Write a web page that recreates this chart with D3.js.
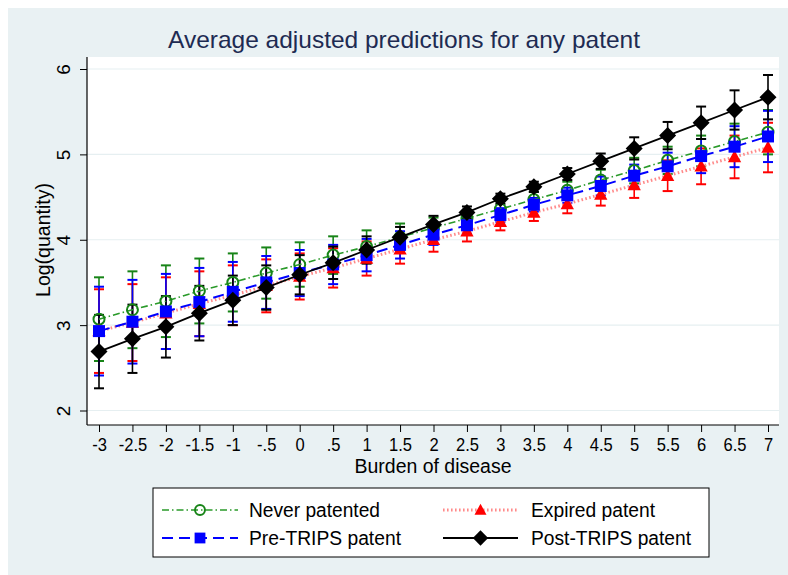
<!DOCTYPE html>
<html><head><meta charset="utf-8">
<script src="https://cdn.jsdelivr.net/npm/d3@7"></script>
<style>body{margin:0;background:#fff}svg{display:block}text{font-family:"Liberation Sans",Arial,sans-serif}</style>
</head><body>
<script>
const xVals = [-3,-2.5,-2,-1.5,-1,-0.5,0,0.5,1,1.5,2,2.5,3,3.5,4,4.5,5,5.5,6,6.5,7];
const xTickLabels = ["-3","-2.5","-2","-1.5","-1","-.5","0",".5","1","1.5","2","2.5","3","3.5","4","4.5","5","5.5","6","6.5","7"];
const yTicks = [2,3,4,5,6];

const neverVals = [3.07,3.18,3.28,3.40,3.50,3.61,3.71,3.82,3.92,4.03,4.14,4.25,4.36,4.47,4.58,4.70,4.81,4.93,5.04,5.15,5.26];
const neverCI   = [0.49,0.45,0.42,0.38,0.34,0.30,0.26,0.22,0.19,0.16,0.12,0.10,0.09,0.09,0.10,0.12,0.15,0.16,0.18,0.21,0.26];
const expiredVals = [2.93,3.03,3.14,3.25,3.35,3.46,3.57,3.67,3.78,3.89,4.00,4.10,4.21,4.32,4.42,4.53,4.64,4.75,4.86,4.97,5.08];
const expiredCI   = [0.49,0.45,0.42,0.38,0.35,0.31,0.27,0.23,0.20,0.17,0.14,0.12,0.10,0.10,0.11,0.13,0.15,0.18,0.21,0.25,0.29];
const preVals = [2.93,3.04,3.16,3.27,3.39,3.50,3.61,3.71,3.82,3.94,4.06,4.17,4.29,4.41,4.52,4.63,4.75,4.86,4.98,5.09,5.21];
const preCI   = [0.52,0.49,0.44,0.40,0.35,0.31,0.27,0.23,0.19,0.16,0.12,0.10,0.08,0.08,0.09,0.11,0.13,0.16,0.20,0.24,0.30];
const postVals = [2.69,2.84,2.98,3.14,3.29,3.44,3.59,3.73,3.88,4.03,4.18,4.32,4.48,4.62,4.77,4.92,5.07,5.22,5.37,5.52,5.67];
const postCI   = [0.43,0.40,0.36,0.32,0.29,0.26,0.23,0.19,0.16,0.12,0.10,0.07,0.06,0.06,0.07,0.09,0.13,0.16,0.19,0.23,0.26];

const seriesNames = ["Never patented","Expired patent","Pre-TRIPS patent","Post-TRIPS patent"];

const W = 788, H = 575;
const svg = d3.select("body").append("svg").attr("width", W).attr("height", H);

svg.append("rect").attr("x",0).attr("y",0).attr("width",W).attr("height",H).attr("fill","#ffffff");
svg.append("rect").attr("x",8).attr("y",8).attr("width",W-8).attr("height",H-8).attr("fill","#e9f1f3");
const plot = {l:87, t:57, r:779, b:425};
svg.append("rect").attr("x",plot.l).attr("y",plot.t).attr("width",plot.r-plot.l).attr("height",plot.b-plot.t).attr("fill","#ffffff");

const x = d3.scaleLinear().domain([-3,7]).range([99,768]);
const y = d3.scaleLinear().domain([2,6]).range([410.5,69]);

svg.append("g").selectAll("line").data(yTicks).join("line")
  .attr("x1",plot.l).attr("x2",plot.r).attr("y1",d=>y(d)).attr("y2",d=>y(d))
  .attr("stroke","#e6eff1").attr("stroke-width",1.2);

const yAxis = svg.append("g").attr("transform",`translate(${plot.l},0)`)
  .call(d3.axisLeft(y).tickValues(yTicks).tickSize(7).tickFormat(d3.format("d")));
yAxis.select(".domain").attr("d",`M0,${plot.t}V${plot.b}`).attr("stroke","#000").attr("stroke-width",1.2);
yAxis.selectAll(".tick line").attr("stroke","#000").attr("stroke-width",1);
yAxis.selectAll(".tick text").attr("font-size",19).attr("fill","#000")
  .attr("transform","rotate(-90)").attr("x",0).attr("y",-17).attr("dy","0").attr("text-anchor","middle");

const xAxis = svg.append("g").attr("transform",`translate(0,${plot.b})`)
  .call(d3.axisBottom(x).tickValues(xVals).tickSize(7).tickFormat((d,i)=>xTickLabels[i]));
xAxis.select(".domain").attr("d",`M${plot.l},0H${plot.r}`).attr("stroke","#000").attr("stroke-width",1.2);
xAxis.selectAll(".tick line").attr("stroke","#000").attr("stroke-width",1);
xAxis.selectAll(".tick text").attr("font-size",18).attr("fill","#000").attr("y",9).attr("dy","0.9em")
  .attr("transform","scale(0.93,1)").each(function(){
    const t=d3.select(this);
  });
// compensate horizontal scale so labels stay centered on ticks
xAxis.selectAll(".tick").each(function(d){
  d3.select(this).select("text").attr("transform","scale(0.92,1.05)");
});

svg.append("text").attr("x",(plot.l+plot.r)/2).attr("y",473).attr("text-anchor","middle")
  .attr("font-size",19.5).attr("fill","#000").attr("textLength",157).attr("lengthAdjust","spacingAndGlyphs").text("Burden of disease");
svg.append("text").attr("transform",`translate(43,240) rotate(-90)`).attr("text-anchor","middle")
  .attr("dy","0.35em").attr("font-size",19.5).attr("fill","#000").attr("textLength",114).attr("lengthAdjust","spacingAndGlyphs").text("Log(quantity)");
svg.append("text").attr("x",404).attr("y",48).attr("text-anchor","middle")
  .attr("font-size",24).attr("fill","#1e2b52").attr("textLength",472).attr("lengthAdjust","spacingAndGlyphs")
  .text("Average adjusted predictions for any patent");

const series = [
  {name:seriesNames[0], vals:neverVals, ci:neverCI, color:"#178417", line:"#2a9a2a", dash:"7,3,1.5,3", lw:1.6, marker:"circle"},
  {name:seriesNames[1], vals:expiredVals, ci:expiredCI, color:"#ff0000", line:"#ff8a8a", dash:"1.6,2.4", lw:3, marker:"triangle"},
  {name:seriesNames[2], vals:preVals, ci:preCI, color:"#0000ff", line:"#0000ff", dash:"11,6", lw:2, marker:"square"},
  {name:seriesNames[3], vals:postVals, ci:postCI, color:"#000000", line:"#000000", dash:null, lw:1.8, marker:"diamond"}
];

function drawMarker(g, type, cx, cy, color, scale=1){
  if(type==="circle"){
    g.append("circle").attr("cx",cx).attr("cy",cy).attr("r",5.5*scale).attr("fill","none").attr("stroke",color).attr("stroke-width",2);
  } else if(type==="triangle"){
    const s=7*scale;
    g.append("path").attr("d",`M${cx},${cy-s}L${cx+s*0.95},${cy+s*0.75}L${cx-s*0.95},${cy+s*0.75}Z`).attr("fill",color);
  } else if(type==="square"){
    const s=6*scale;
    g.append("rect").attr("x",cx-s).attr("y",cy-s).attr("width",2*s).attr("height",2*s).attr("fill",color);
  } else {
    const s=8.5*scale;
    g.append("path").attr("d",`M${cx},${cy-s}L${cx+s},${cy}L${cx},${cy+s}L${cx-s},${cy}Z`).attr("fill",color);
  }
}

const capW = 5;
series.forEach(s=>{
  const g = svg.append("g");
  xVals.forEach((xv,i)=>{
    const lo = y(s.vals[i]-s.ci[i]), hi = y(s.vals[i]+s.ci[i]), cx = x(xv);
    g.append("line").attr("x1",cx).attr("x2",cx).attr("y1",lo).attr("y2",hi).attr("stroke",s.color).attr("stroke-width",1.6);
    g.append("line").attr("x1",cx-capW).attr("x2",cx+capW).attr("y1",lo).attr("y2",lo).attr("stroke",s.color).attr("stroke-width",2);
    g.append("line").attr("x1",cx-capW).attr("x2",cx+capW).attr("y1",hi).attr("y2",hi).attr("stroke",s.color).attr("stroke-width",2);
  });
});
series.forEach(s=>{
  const g = svg.append("g");
  const line = d3.line().x((d,i)=>x(xVals[i])).y(d=>y(d));
  const p = g.append("path").datum(s.vals).attr("d",line).attr("fill","none")
    .attr("stroke",s.line).attr("stroke-width",s.lw);
  if(s.dash) p.attr("stroke-dasharray",s.dash);
  s.vals.forEach((v,i)=>drawMarker(g,s.marker,x(xVals[i]),y(v),s.color));
});

const lg = svg.append("g");
lg.append("rect").attr("x",153).attr("y",488).attr("width",556).attr("height",69).attr("fill","#fff").attr("stroke","#000").attr("stroke-width",1);
const legPos = [
  {s:series[0], x1:162, x2:238, tx:249, y:510, w:131},
  {s:series[1], x1:443, x2:518, tx:531, y:510, w:124},
  {s:series[2], x1:162, x2:238, tx:249, y:538, w:152},
  {s:series[3], x1:443, x2:518, tx:531, y:538, w:160}
];
legPos.forEach(p=>{
  const l = lg.append("line").attr("x1",p.x1).attr("x2",p.x2).attr("y1",p.y).attr("y2",p.y)
    .attr("stroke",p.s.line).attr("stroke-width",p.s.lw);
  if(p.s.dash) l.attr("stroke-dasharray",p.s.dash);
  drawMarker(lg,p.s.marker,(p.x1+p.x2)/2,p.y,p.s.color,0.9);
  lg.append("text").attr("x",p.tx).attr("y",p.y).attr("dy","0.36em").attr("font-size",19.5).attr("fill","#000")
    .attr("textLength",p.w).attr("lengthAdjust","spacingAndGlyphs").text(p.s.name);
});
</script>
</body></html>
